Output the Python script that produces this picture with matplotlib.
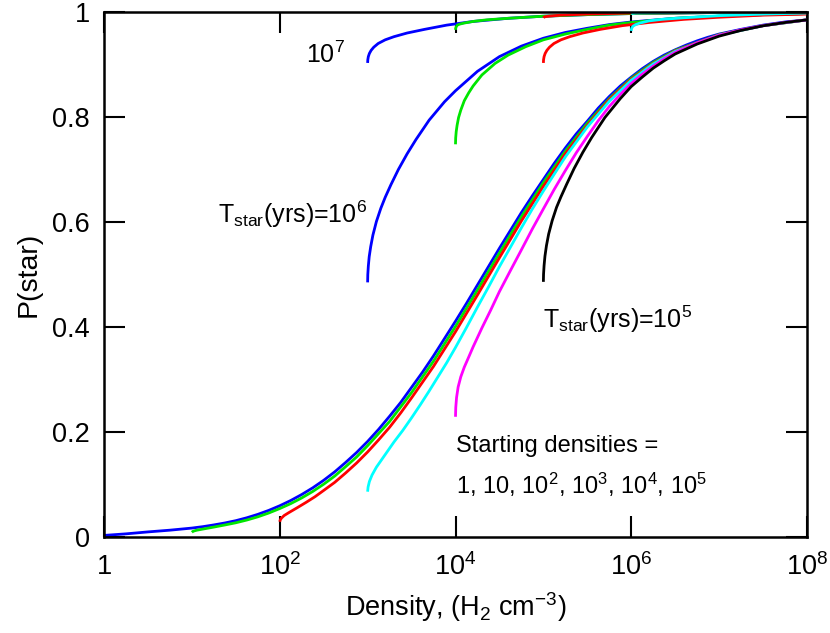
import numpy as np
import matplotlib
matplotlib.use("Agg")
import matplotlib.pyplot as plt
from matplotlib.ticker import FixedLocator, NullLocator

plt.rcParams['font.family'] = ['Liberation Sans', 'DejaVu Sans']
plt.rcParams['mathtext.fontset'] = 'custom'
plt.rcParams['mathtext.rm'] = 'Liberation Sans'
plt.rcParams['mathtext.it'] = 'Liberation Sans:italic'
plt.rcParams['mathtext.bf'] = 'Liberation Sans:bold'

# ---------------- data (log10 density, P(star)) ----------------
# T_star = 1e5 yrs, starting densities 1 .. 1e5
t5_n1_logn = [0.0, 0.25, 0.5, 0.75, 1.0, 1.125, 1.25, 1.375, 1.5, 1.625, 1.75, 1.875, 2.0, 2.125, 2.25,
              2.375, 2.5, 2.625, 2.75, 2.875, 3.0, 3.125, 3.25, 3.375, 3.5, 3.625, 3.75, 3.875, 4.0,
              4.125, 4.25, 4.375, 4.5, 4.625, 4.75, 4.875, 5.0, 5.125, 5.25, 5.375, 5.5, 5.625, 5.75,
              5.875, 6.0, 6.125, 6.25, 6.375, 6.5, 6.625, 6.75, 6.875, 7.0, 7.25, 7.5, 7.75, 8.0]
t5_n1_p = [0.003, 0.006, 0.0097, 0.013, 0.017, 0.0197, 0.0230, 0.0267, 0.0311, 0.0366, 0.0431, 0.0507,
           0.0595, 0.0695, 0.0809, 0.0936, 0.108, 0.124, 0.142, 0.161, 0.182, 0.205, 0.230, 0.256, 0.285,
           0.314, 0.345, 0.378, 0.411, 0.445, 0.480, 0.515, 0.550, 0.584, 0.618, 0.650, 0.681, 0.712,
           0.741, 0.768, 0.792, 0.817, 0.839, 0.859, 0.876, 0.892, 0.906, 0.918, 0.928, 0.937, 0.945,
           0.952, 0.958, 0.967, 0.975, 0.981, 0.985]

t5_n10_logn = [1.0, 1.01, 1.03, 1.06, 1.125, 1.25, 1.375, 1.5, 1.625, 1.75, 1.875, 2.0, 2.125, 2.25,
               2.375, 2.5, 2.625, 2.75, 2.875, 3.0, 3.25, 3.5, 3.75, 4.0, 4.25, 4.5, 4.75, 5.0, 5.25,
               5.5, 5.75, 6.0, 6.25, 6.5, 7.0, 7.5, 8.0]
t5_n10_p = [0.009, 0.0105, 0.0118, 0.0131, 0.0151, 0.0189, 0.0229, 0.0271, 0.0323, 0.0384, 0.0457,
            0.0542, 0.0636, 0.0744, 0.0867, 0.1006, 0.116, 0.134, 0.1525, 0.174, 0.220, 0.275, 0.335,
            0.401, 0.4705, 0.541, 0.610, 0.675, 0.735, 0.788, 0.835, 0.874, 0.904, 0.927, 0.957, 0.974,
            0.985]

t5_n100_logn = [2.0, 2.005, 2.02, 2.05, 2.1, 2.2, 2.3, 2.4, 2.5, 2.625, 2.75, 2.875, 3.0, 3.125, 3.25,
                3.375, 3.5, 3.625, 3.75, 3.875, 4.0, 4.25, 4.5, 4.75, 5.0, 5.25, 5.5, 5.75, 6.0, 6.25,
                6.5, 7.0, 7.5, 8.0]
t5_n100_p = [0.029, 0.0323, 0.0361, 0.0409, 0.0461, 0.0559, 0.066, 0.0766, 0.0887, 0.104, 0.122, 0.141,
             0.162, 0.185, 0.209, 0.236, 0.265, 0.295, 0.325, 0.358, 0.391, 0.461, 0.532, 0.602, 0.668,
             0.730, 0.784, 0.833, 0.872, 0.902, 0.926, 0.9565, 0.974, 0.985]

t5_n1e3_logn = [3.0, 3.005, 3.02, 3.05, 3.1, 3.2, 3.3, 3.4, 3.5, 3.6, 3.7, 3.8, 3.9, 4.0, 4.125, 4.25,
                4.375, 4.5, 4.625, 4.75, 4.875, 5.0, 5.25, 5.5, 5.75, 6.0, 6.25, 6.5, 7.0, 7.5, 8.0]
t5_n1e3_p = [0.0863, 0.095, 0.1056, 0.118, 0.133, 0.157, 0.181, 0.203, 0.227, 0.252, 0.278, 0.305,
             0.332, 0.361, 0.399, 0.438, 0.476, 0.515, 0.552, 0.589, 0.625, 0.659, 0.724, 0.781, 0.830,
             0.870, 0.901, 0.925, 0.956, 0.974, 0.985]

t5_n1e4_logn = [4.0, 4.003, 4.012, 4.03, 4.06, 4.1, 4.15, 4.2, 4.3, 4.4, 4.5, 4.625, 4.75, 4.875, 5.0,
                5.125, 5.25, 5.375, 5.5, 5.625, 5.75, 5.875, 6.0, 6.125, 6.25, 6.375, 6.5, 6.75, 7.0,
                7.25, 7.5, 7.75, 8.0]
t5_n1e4_p = [0.229, 0.2466, 0.2656, 0.2857, 0.305, 0.3235, 0.3426, 0.362, 0.398, 0.432, 0.4675, 0.5075,
             0.547, 0.587, 0.625, 0.6626, 0.698, 0.732, 0.763, 0.793, 0.820, 0.843, 0.864, 0.8816, 0.897,
             0.9108, 0.923, 0.9413, 0.9557, 0.966, 0.974, 0.980, 0.985]

t5_n1e5_logn = [5.0, 5.002, 5.008, 5.018, 5.035, 5.06, 5.1, 5.15, 5.2, 5.265, 5.35, 5.45, 5.55, 5.7,
                5.875, 6.0, 6.125, 6.25, 6.375, 6.5, 6.75, 7.0, 7.25, 7.5, 7.75, 8.0]
t5_n1e5_p = [0.486, 0.5006, 0.517, 0.535, 0.555, 0.577, 0.6025, 0.628, 0.648, 0.672, 0.702, 0.733,
             0.761, 0.799, 0.835, 0.858, 0.876, 0.893, 0.907, 0.920, 0.939, 0.954, 0.965, 0.9737, 0.980,
             0.985]

# T_star = 1e6 yrs, starting densities 1e3 .. 1e6
t6_n1e3_logn = [3.0, 3.002, 3.008, 3.018, 3.035, 3.06, 3.1, 3.15, 3.2, 3.265, 3.35, 3.45, 3.55, 3.7,
                3.875, 4.0, 4.25, 4.5, 4.75, 5.0, 5.25, 5.5, 5.75, 6.0, 6.5, 7.0, 7.5, 8.0]
t6_n1e3_p = [0.485, 0.500, 0.516, 0.534, 0.553, 0.575, 0.601, 0.626, 0.647, 0.671, 0.700, 0.730, 0.757,
             0.794, 0.829, 0.850, 0.887, 0.915, 0.935, 0.950, 0.961, 0.969, 0.976, 0.981, 0.988, 0.992,
             0.995, 0.997]

t6_n1e4_logn = [4.0, 4.002, 4.008, 4.018, 4.035, 4.06, 4.1, 4.15, 4.2, 4.3, 4.45, 4.6, 4.8, 5.0, 5.25,
                5.5, 5.75, 6.0, 6.5, 7.0, 7.5, 8.0]
t6_n1e4_p = [0.748, 0.760, 0.772, 0.784, 0.799, 0.813, 0.831, 0.846, 0.859, 0.880, 0.902, 0.918, 0.934,
             0.947, 0.958, 0.967, 0.975, 0.980, 0.988, 0.992, 0.995, 0.997]

t6_n1e5_logn = [5.0, 5.002, 5.008, 5.02, 5.04, 5.07, 5.12, 5.2, 5.3, 5.45, 5.65, 5.9, 6.2, 6.6, 7.0,
                7.5, 8.0]
t6_n1e5_p = [0.903, 0.909, 0.915, 0.921, 0.927, 0.933, 0.940, 0.947, 0.953, 0.960, 0.967, 0.974, 0.980,
             0.986, 0.990, 0.994, 0.996]

t6_n1e6_logn = [6.0, 6.002, 6.008, 6.02, 6.05, 6.1, 6.2, 6.35, 6.6, 7.0, 7.5, 8.0]
t6_n1e6_p = [0.964, 0.967, 0.970, 0.973, 0.976, 0.979, 0.983, 0.986, 0.989, 0.993, 0.996, 0.998]

# T_star = 1e7 yrs, starting densities 1e3 .. 1e6
t7_n1e3_logn = [3.0, 3.002, 3.008, 3.02, 3.04, 3.07, 3.12, 3.2, 3.3, 3.45, 3.65, 3.9, 4.2, 4.6, 5.0,
                5.5, 6.0, 7.0, 8.0]
t7_n1e3_p = [0.903, 0.909, 0.915, 0.921, 0.927, 0.933, 0.940, 0.947, 0.953, 0.960, 0.967, 0.975, 0.982,
             0.988, 0.992, 0.995, 0.997, 0.999, 1.0]

t7_n1e4_logn = [4.0, 4.002, 4.008, 4.02, 4.05, 4.1, 4.2, 4.35, 4.6, 5.0, 5.5, 6.0, 7.0, 8.0]
t7_n1e4_p = [0.966, 0.969, 0.972, 0.975, 0.977, 0.979, 0.982, 0.985, 0.988, 0.992, 0.995, 0.997, 0.999,
             1.0]

t7_n1e5_logn = [5.0, 5.005, 5.02, 5.06, 5.2, 5.5, 6.0, 7.0, 8.0]
t7_n1e5_p = [0.989, 0.990, 0.991, 0.992, 0.994, 0.996, 0.998, 0.999, 1.0]

t7_n1e6_logn = [6.0, 6.05, 6.5, 8.0]
t7_n1e6_p = [0.997, 0.998, 0.999, 1.0]

xtick_values = [1, 1e2, 1e4, 1e6, 1e8]
xtick_labels = ['1', '10$^2$', '10$^4$', '10$^6$', '10$^8$']
ytick_values = [0, 0.2, 0.4, 0.6, 0.8, 1.0]
ytick_labels = ['0', '0.2', '0.4', '0.6', '0.8', '1']

BLUE, GREEN, RED, CYAN, MAG, BLACK = '#0000ff', '#00e600', '#ff0000', '#00ffff', '#ff00ff', '#000000'

curves = [
    (t5_n1_logn, t5_n1_p, BLUE), (t5_n10_logn, t5_n10_p, GREEN), (t5_n100_logn, t5_n100_p, RED),
    (t5_n1e3_logn, t5_n1e3_p, CYAN), (t5_n1e4_logn, t5_n1e4_p, MAG), (t5_n1e5_logn, t5_n1e5_p, BLACK),
    (t6_n1e3_logn, t6_n1e3_p, BLUE), (t6_n1e4_logn, t6_n1e4_p, GREEN), (t6_n1e5_logn, t6_n1e5_p, RED),
    (t6_n1e6_logn, t6_n1e6_p, CYAN),
    (t7_n1e3_logn, t7_n1e3_p, BLUE), (t7_n1e4_logn, t7_n1e4_p, GREEN), (t7_n1e5_logn, t7_n1e5_p, RED),
    (t7_n1e6_logn, t7_n1e6_p, CYAN),
]

fig = plt.figure(figsize=(8.3, 6.33), dpi=100)
ax = fig.add_axes([104 / 830, 1 - 537 / 633, 703 / 830, 525 / 633])

for logn, p, c in curves:
    ax.plot(10.0 ** np.asarray(logn), p, color=c, lw=2.0, solid_capstyle='butt',
            solid_joinstyle='round')

ax.set_xscale('log')
ax.set_xlim(1, 1e8)
ax.set_ylim(0, 1)
ax.xaxis.set_major_locator(FixedLocator(xtick_values))
ax.xaxis.set_minor_locator(NullLocator())
ax.set_xticklabels(xtick_labels)
ax.set_yticks(ytick_values)
ax.set_yticklabels(ytick_labels)
ax.tick_params(direction='in', length=15, width=1.5, top=True, right=True,
               labelsize=19.5, pad=10, colors='black')
ax.tick_params(axis='x', pad=12)
for s in ax.spines.values():
    s.set_linewidth(1.8)

ax.set_xlabel('Density, (H$_2$ cm$^{-3}$)', fontsize=19.5, labelpad=6)
ax.set_ylabel('P(star)', fontsize=20.5, labelpad=8)

ax.text(0.287, 0.918, '10$^7$', transform=ax.transAxes, fontsize=18, ha='left', va='center')
ax.text(0.162, 0.615, 'T$_{\\rm star}$(yrs)=10$^6$', transform=ax.transAxes, fontsize=18,
        ha='left', va='center')
ax.text(0.624, 0.415, 'T$_{\\rm star}$(yrs)=10$^5$', transform=ax.transAxes, fontsize=18,
        ha='left', va='center')
ax.text(0.500, 0.173, 'Starting densities =', transform=ax.transAxes, fontsize=17,
        ha='left', va='center')
ax.text(0.500, 0.099, '1, 10, 10$^2$, 10$^3$, 10$^4$, 10$^5$', transform=ax.transAxes, fontsize=17,
        ha='left', va='center')

fig.savefig('out.png', dpi=100)
